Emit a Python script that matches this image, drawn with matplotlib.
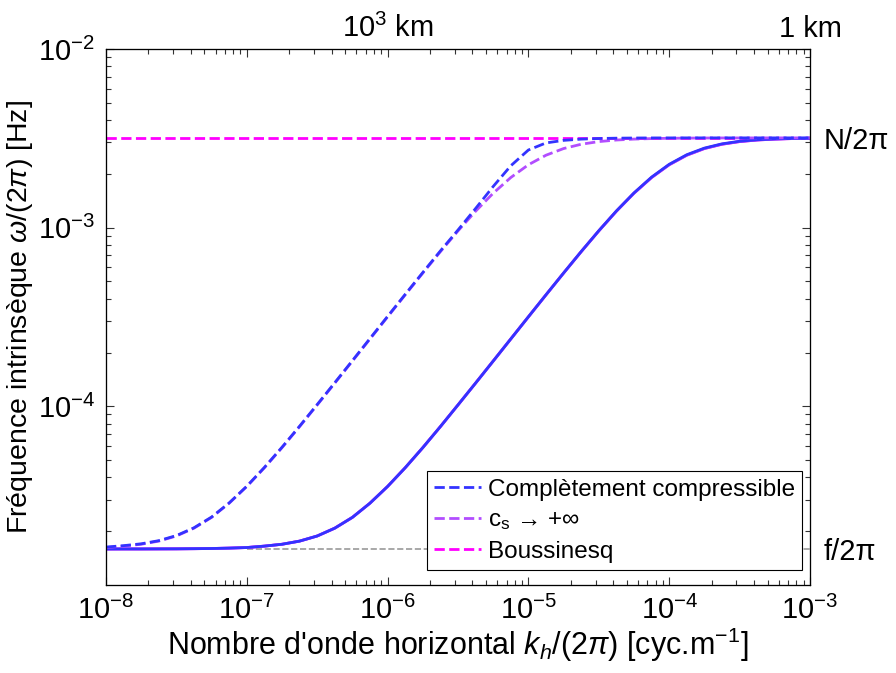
import numpy as np
import matplotlib.pyplot as plt
from matplotlib.ticker import LogLocator, NullLocator, NullFormatter

plt.rcParams['font.family'] = ['Liberation Sans', 'DejaVu Sans']
plt.rcParams['mathtext.fontset'] = 'custom'
plt.rcParams['mathtext.rm'] = 'Liberation Sans'
plt.rcParams['mathtext.it'] = 'Liberation Sans:italic'
plt.rcParams['mathtext.sf'] = 'Liberation Sans'

# horizontal wavenumber k_h/(2pi) [cyc/m], log10 grid read at 1/8 decade
log_kh = [-8.0, -7.875, -7.75, -7.625, -7.5, -7.375, -7.25, -7.125,
          -7.0, -6.875, -6.75, -6.625, -6.5, -6.375, -6.25, -6.125,
          -6.0, -5.875, -5.75, -5.625, -5.5, -5.375, -5.25, -5.125,
          -5.0, -4.875, -4.75, -4.625, -4.5, -4.375, -4.25, -4.125,
          -4.0, -3.875, -3.75, -3.625, -3.5, -3.375, -3.25, -3.125, -3.0]

# omega/(2pi) [Hz] - large vertical wavelength (dashed curves)
w_anelastic_a = [1.62e-5, 1.65e-5, 1.69e-5, 1.76e-5, 1.88e-5, 2.08e-5, 2.39e-5, 2.87e-5,
                 3.56e-5, 4.53e-5, 5.87e-5, 7.70e-5, 1.018e-4, 1.349e-4, 1.792e-4, 2.383e-4,
                 3.168e-4, 4.206e-4, 5.569e-4, 7.338e-4, 9.589e-4, 1.236e-3, 1.559e-3, 1.908e-3,
                 2.249e-3, 2.544e-3, 2.772e-3, 2.930e-3, 3.032e-3, 3.094e-3, 3.131e-3, 3.152e-3,
                 3.164e-3, 3.171e-3, 3.175e-3, 3.177e-3, 3.178e-3, 3.179e-3, 3.180e-3, 3.180e-3, 3.180e-3]
w_compress_a = [1.63e-5, 1.66e-5, 1.70e-5, 1.77e-5, 1.89e-5, 2.09e-5, 2.40e-5, 2.88e-5,
                3.57e-5, 4.55e-5, 5.90e-5, 7.74e-5, 1.023e-4, 1.356e-4, 1.801e-4, 2.396e-4,
                3.186e-4, 4.232e-4, 5.610e-4, 7.41e-4, 9.70e-4, 1.28e-3, 1.70e-3, 2.22e-3,
                2.72e-3, 2.98e-3, 3.08e-3, 3.13e-3, 3.155e-3, 3.168e-3, 3.175e-3, 3.178e-3,
                3.179e-3, 3.180e-3, 3.180e-3, 3.180e-3, 3.180e-3, 3.180e-3, 3.180e-3, 3.180e-3, 3.180e-3]

# omega/(2pi) [Hz] - small vertical wavelength (solid curves)
w_boussinesq_b = [1.590e-5, 1.591e-5, 1.591e-5, 1.592e-5, 1.593e-5, 1.596e-5, 1.600e-5, 1.608e-5,
                  1.62e-5, 1.65e-5, 1.69e-5, 1.76e-5, 1.88e-5, 2.08e-5, 2.39e-5, 2.87e-5,
                  3.56e-5, 4.53e-5, 5.87e-5, 7.70e-5, 1.018e-4, 1.349e-4, 1.792e-4, 2.383e-4,
                  3.168e-4, 4.206e-4, 5.569e-4, 7.338e-4, 9.589e-4, 1.236e-3, 1.559e-3, 1.908e-3,
                  2.249e-3, 2.544e-3, 2.772e-3, 2.930e-3, 3.032e-3, 3.094e-3, 3.131e-3, 3.152e-3, 3.164e-3]
w_anelastic_b = list(w_boussinesq_b)
w_compress_b = [1.590e-5, 1.591e-5, 1.591e-5, 1.592e-5, 1.593e-5, 1.596e-5, 1.600e-5, 1.608e-5,
                1.62e-5, 1.65e-5, 1.69e-5, 1.76e-5, 1.88e-5, 2.08e-5, 2.39e-5, 2.87e-5,
                3.56e-5, 4.53e-5, 5.87e-5, 7.70e-5, 1.018e-4, 1.349e-4, 1.792e-4, 2.383e-4,
                3.170e-4, 4.210e-4, 5.575e-4, 7.35e-4, 9.61e-4, 1.240e-3, 1.565e-3, 1.918e-3,
                2.262e-3, 2.560e-3, 2.788e-3, 2.945e-3, 3.045e-3, 3.104e-3, 3.138e-3, 3.157e-3, 3.167e-3]

N_2pi = 3.18e-3
f_2pi = 1.59e-5
xlim = [1e-8, 1e-3]
f_line_x = [1e-7, 1e-3]
decades = [1e-8, 1e-7, 1e-6, 1e-5, 1e-4, 1e-3]

blue = '#3333ff'
purple = '#b24dff'
magenta = '#ff00ff'
axcol = '#333333'

kh = 10.0 ** np.array(log_kh)

fig = plt.figure(figsize=(8.96, 6.73), dpi=100)
ax = fig.add_axes([0.1183, 0.1308, 0.7857, 0.7964])

ax.plot(f_line_x, [f_2pi, f_2pi], '--', color='#999999', lw=1.2)
ax.plot(xlim, [N_2pi, N_2pi], '--', color=magenta, lw=2, label='Boussinesq')
ax.plot(kh, w_boussinesq_b, '-', color=magenta, lw=2)
ax.plot(kh, w_anelastic_b, '-', color=purple, lw=2)
ax.plot(kh, w_compress_b, '-', color=blue, lw=2)
ax.plot(kh, w_anelastic_a, '--', color=purple, lw=2, label='c$_\\mathrm{s}$ → +∞')
ax.plot(kh, w_compress_a, '--', color=blue, lw=2, label='Complètement compressible')

ax.set_xscale('log')
ax.set_yscale('log')
ax.set_xlim(xlim)
ax.set_ylim(1e-5, 1e-2)
ax.set_xticks(decades)
ax.set_yticks([1e-4, 1e-3, 1e-2])
ax.yaxis.set_minor_locator(LogLocator(base=10, subs=np.arange(2, 10)))
ax.xaxis.set_minor_locator(LogLocator(base=10, subs=np.arange(2, 10)))
ax.yaxis.set_minor_formatter(NullFormatter())
ax.xaxis.set_minor_formatter(NullFormatter())
for s in ax.spines.values():
    s.set_linewidth(0.8)
    s.set_color(axcol)

ax.set_xlabel(r"Nombre d'onde horizontal $k_h$/(2$\pi$) [cyc.m$^{-1}$]", fontsize=22, labelpad=0)
ax.set_ylabel(r"Fréquence intrinsèque $\omega$/(2$\pi$) [Hz]", fontsize=20.5, labelpad=2)

# top axis: wavelength
axt = ax.twiny()
axt.set_xscale('log')
axt.set_xlim(xlim)
axt.set_xticks(decades)
axt.set_xticklabels(['', '', r'10$^3$ km', '', '', '1 km'])
axt.xaxis.set_minor_formatter(NullFormatter())
axt.tick_params(which='both', length=0, labelsize=21, pad=4)

# right axis: N and f
axr = ax.twinx()
axr.set_yscale('log')
axr.set_ylim(1e-5, 1e-2)
axr.set_yticks([f_2pi, N_2pi])
axr.set_yticklabels(['f/2π', 'N/2π'])
axr.yaxis.set_minor_locator(NullLocator())
axr.tick_params(which='both', length=0, labelsize=21, pad=10)

# inward ticks on all four sides (after the twins are made)
ax.tick_params(which='both', direction='in', top=True, right=True,
               labeltop=False, labelright=False, labelsize=21, pad=8, color=axcol)
ax.tick_params(which='major', length=6, width=0.8)
ax.tick_params(which='minor', length=3.5, width=0.8)

h, l = ax.get_legend_handles_labels()
leg = axr.legend(h[::-1], l[::-1], loc='lower right', bbox_to_anchor=(0.989, 0.028),
                 fontsize=17.5, frameon=True, fancybox=False, edgecolor='black',
                 framealpha=1, handlelength=1.9, handletextpad=0.3, borderaxespad=0,
                 labelspacing=0.35, borderpad=0.3)
leg.get_frame().set_linewidth(0.8)

fig.savefig('out.png', dpi=100)
